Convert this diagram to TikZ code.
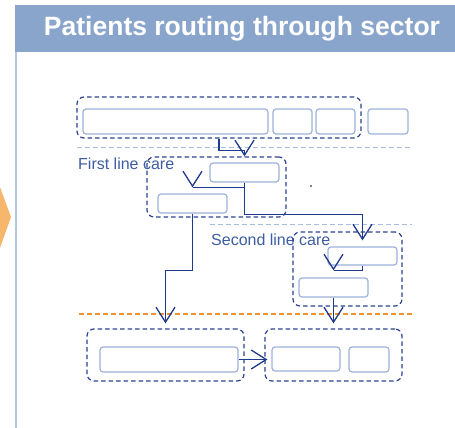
\documentclass[tikz,border=0pt]{standalone}
\usepackage{fontspec}
\setmainfont{Liberation Sans}
\usetikzlibrary{arrows.meta,calc}
\definecolor{hdr}{HTML}{8AA5CB}
\definecolor{sidec}{HTML}{B3C6E3}
\definecolor{chev}{HTML}{F6B66C}
\definecolor{boxc}{HTML}{9CB2D9}
\definecolor{grpc}{HTML}{2A4290}
\definecolor{conc}{HTML}{1F3A8C}
\definecolor{lblc}{HTML}{3D5CA3}
\definecolor{sepc}{HTML}{A8BCE0}
\definecolor{orsep}{HTML}{F39233}
\begin{document}
\begin{tikzpicture}[x=1pt,y=-1pt,
  sz/.style 2 args={minimum width=#1, minimum height=#2},
  box/.style={draw=boxc, line width=1.2pt, rounded corners=3pt, fill=white, inner sep=0pt},
  grp/.style={draw=grpc, dash pattern=on 4.5pt off 3pt, line width=1.2pt, rounded corners=7pt, inner sep=0pt},
  conn/.style={draw=conc, line width=1.3pt},
  arr/.style={conn, -{Straight Barb[length=15pt,width=19pt,line width=1.3pt]}},
  lbl/.style={text=lblc, font=\fontsize{16}{16}\selectfont, inner sep=0pt, anchor=west},
  sep/.style={draw=sepc, line width=1pt, dash pattern=on 5pt off 3pt},
  osep/.style={draw=orsep, line width=1.3pt, dash pattern=on 5pt off 3pt}]
\useasboundingbox (0,0) rectangle (455,428);
% header and frame
\fill[hdr] (15,5) rectangle (455,52);
\node[text=white, font=\bfseries\fontsize{26.5}{26.5}\selectfont, inner sep=0pt] (title) at (242,29) {Patients routing through sector};
\fill[sidec] (15,52) rectangle (17,428);
\fill[chev] (0,187) -- (11,217) -- (0,248) -- cycle;
% separators
\draw[sep] (77,147) -- (412,147);
\draw[sep] (210,224) -- (412,224);
\draw[osep] (79,314) -- (412,314);
% labels
\node[lbl] (fl) at (78,164) {First line care};
\node[lbl] (sl) at (211,240) {Second line care};
% groups
\node[grp, sz={284}{41}] (topgrp) at (219,117.5) {};
\node[grp, sz={139}{60}] (grp1) at (216.5,187) {};
\node[grp, sz={109}{74}] (grp2) at (347.5,269) {};
\node[grp, sz={157}{52}] (grp3) at (165.5,355) {};
\node[grp, sz={137}{52}] (grp4) at (333.5,355) {};
% boxes
\node[box, sz={185}{25}] (b1) at (175.5,121.5) {};
\node[box, sz={39}{25}] (b2) at (292.5,121.5) {};
\node[box, sz={39}{25}] (b3) at (335.5,121.5) {};
\node[box, sz={40}{25}] (b4) at (388,121.5) {};
\node[box, sz={69}{19}] (bA) at (244.5,172.5) {};
\node[box, sz={69}{19}] (bB) at (192.5,203.5) {};
\node[box, sz={69}{18}] (bC) at (362.5,256) {};
\node[box, sz={69}{19}] (bD) at (333.5,287.5) {};
\node[box, sz={138}{25}] (bE) at (169,359.5) {};
\node[box, sz={68}{24}] (bF) at (306,359) {};
\node[box, sz={40}{25}] (bG) at (369,359.5) {};
\fill (311,186) circle (0.8);
% connectors
\draw[arr] (topgrp.south) -- ++(0,12) -| (bA.north |- grp1.north);
\coordinate (tB) at ($(bB.north)+(0,-6)$);
\draw[conn] (bA.south) |- (tB);
\draw[arr] ($(tB)+(0,-2)$) -- (tB);
\draw[arr] (bA.south) -- ++(0,32) -| ($(bC.north)+(0,-6)$);
\draw[arr] (bB.south) -- ++(0,57) -| ($(grp3.north)+(0,-5)$);
\coordinate (tD) at ($(bD.north)+(0,-7)$);
\draw[conn] (bC.south) |- (tD);
\draw[arr] ($(tD)+(0,-2)$) -- (tD);
\draw[arr] (bD.south) -- ($(grp4.north)+(0,-5)$);
\draw[arr] (bE.east) -- ($(bE.east -| bF.west)+(-4,0)$);
\end{tikzpicture}
\end{document}
